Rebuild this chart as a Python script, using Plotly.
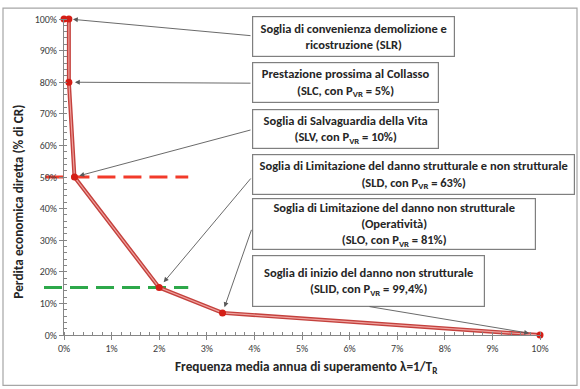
import plotly.graph_objects as go

# ---- data ----
lam = [0.0, 0.001026, 0.001026, 0.0022, 0.02, 0.0333, 0.10]       # annual frequency
loss = [1.00, 1.00, 0.80, 0.50, 0.15, 0.07, 0.00]                  # direct economic loss
labels = [
    "Soglia di convenienza demolizione e<br>ricostruzione (SLR)",
    "Prestazione prossima al Collasso<br>(SLC, con P<sub>VR</sub> = 5%)",
    "Soglia di Salvaguardia della Vita<br>(SLV, con P<sub>VR</sub> = 10%)",
    "Soglia di Limitazione del danno strutturale e non strutturale<br>(SLD, con P<sub>VR</sub> = 63%)",
    "Soglia di Limitazione del danno non strutturale<br>(Operatività)<br>(SLO, con P<sub>VR</sub> = 81%)",
    "Soglia di inizio del danno non strutturale<br>(SLID, con P<sub>VR</sub> = 99,4%)",
]
label_point = [1, 2, 3, 4, 5, 6]        # index of the point each label refers to
ref_lines_y = [0.50, 0.15]
ref_lines_x = [(-0.0039, 0.0261), (-0.0042, 0.0261)]
ref_lines_color = ["#F23A2A", "#2DA84A"]
x_title = "<b>Frequenza media annua di superamento λ=1/T<sub>R</sub></b>"
y_title = "<b>Perdita economica diretta (% di CR)</b>"

FONT = "Carlito, 'Liberation Sans Narrow', 'Arial Narrow', 'Roboto Condensed', sans-serif"

W, H = 580, 389
L, R, T, B = 64, 40, 15, 54
PW, PH = W - L - R, H - T - B


def px2paper(px, py):
    return (px - L) / PW, (H - B - py) / PH


def px2data(px, py):
    return (px - L) / PW * 0.10, (H - B - py) / PH * 1.0


fig = go.Figure()
fig.add_trace(go.Scatter(x=lam, y=loss, mode="lines",
                         line=dict(color="#C4413D", width=4), cliponaxis=False,
                         hoverinfo="skip", showlegend=False))
fig.add_trace(go.Scatter(x=lam, y=loss, mode="lines+markers",
                         line=dict(color="#EFA29E", width=1.2),
                         marker=dict(color="#D41E16", size=7), cliponaxis=False,
                         showlegend=False))

shapes = []
for yv, (x0, x1), c in zip(ref_lines_y, ref_lines_x, ref_lines_color):
    shapes.append(dict(type="line", xref="x domain", yref="y",
                       x0=x0 / 0.10, x1=x1 / 0.10, y0=yv, y1=yv,
                       line=dict(color=c, width=3, dash="18px,8px"), layer="below"))
bx0, by0 = px2paper(3, 4)
bx1, by1 = px2paper(577, 386)
shapes.append(dict(type="rect", xref="paper", yref="paper", x0=bx0, x1=bx1, y0=by1, y1=by0,
                   line=dict(color="#A6A6A6", width=1.2), layer="below"))

# label boxes: (left, top, right, bottom) in pixels
boxes = [(252, 12, 455, 53), (252, 59, 439, 100), (252, 106, 439, 146),
         (252, 152, 575, 193), (252, 197, 536, 249), (252, 254, 485, 306)]
tails = [(252, 32), (252, 80), (252, 127), (252, 175), (252, 227), (368, 306)]
standoffs = [4, 6, 5, 7, 6, 11]

annotations = []
for txt, (l, t, r, b) in zip(labels, boxes):
    xp, yp = px2paper(l, (t + b) / 2)
    annotations.append(dict(text="<b>" + txt + "</b>", xref="paper", yref="paper",
                            x=xp, y=yp, xanchor="left", yanchor="middle",
                            width=r - l - 4, height=b - t - 4, align="center", valign="middle",
                            showarrow=False, bgcolor="white", bordercolor="#7F7F7F",
                            borderwidth=1.2, borderpad=1,
                            font=dict(family=FONT, size=12.5, color="#262626")))
for idx, (tx, ty), so in zip(label_point, tails, standoffs):
    ax, ay = px2data(tx, ty)
    annotations.append(dict(text="", x=lam[idx], y=loss[idx], xref="x", yref="y",
                            ax=ax, ay=ay, axref="x", ayref="y", showarrow=True,
                            arrowhead=2, arrowsize=1.1, arrowwidth=0.9,
                            arrowcolor="#595959", standoff=so))

# axis titles as annotations (placed like the reference)
xt, yt = px2paper(306, 368)
annotations.append(dict(text=x_title, xref="paper", yref="paper", x=xt, y=yt,
                        xanchor="center", yanchor="middle", showarrow=False,
                        font=dict(family=FONT, size=13.3, color="#262626")))
xt, yt = px2paper(19, 200)
annotations.append(dict(text=y_title, xref="paper", yref="paper", x=xt, y=yt, textangle=-90,
                        xanchor="center", yanchor="middle", showarrow=False,
                        font=dict(family=FONT, size=13.3, color="#262626")))

fig.update_layout(
    width=W, height=H, margin=dict(l=L, r=R, t=T, b=B),
    paper_bgcolor="white", plot_bgcolor="white",
    font=dict(family=FONT, color="#404040", size=10),
    shapes=shapes, annotations=annotations,
    xaxis=dict(range=[0, 0.10], dtick=0.01, tickformat=".0%", showgrid=False, zeroline=False,
               showline=True, linecolor="#868686", linewidth=1,
               ticks="outside", ticklen=4, tickcolor="#868686",
               minor=dict(dtick=0.002, ticks="inside", ticklen=3, tickcolor="#868686"),
               tickfont=dict(size=10, color="#404040")),
    yaxis=dict(range=[0, 1.0], dtick=0.1, tickformat=".0%", showgrid=False, zeroline=False,
               showline=True, linecolor="#868686", linewidth=1,
               ticks="outside", ticklen=4, tickcolor="#868686",
               minor=dict(dtick=0.02, ticks="inside", ticklen=3, tickcolor="#868686"),
               tickfont=dict(size=10, color="#404040")),
)

fig.write_html("out.html", config={"displayModeBar": False},
               post_script="document.body.style.margin='0';")
